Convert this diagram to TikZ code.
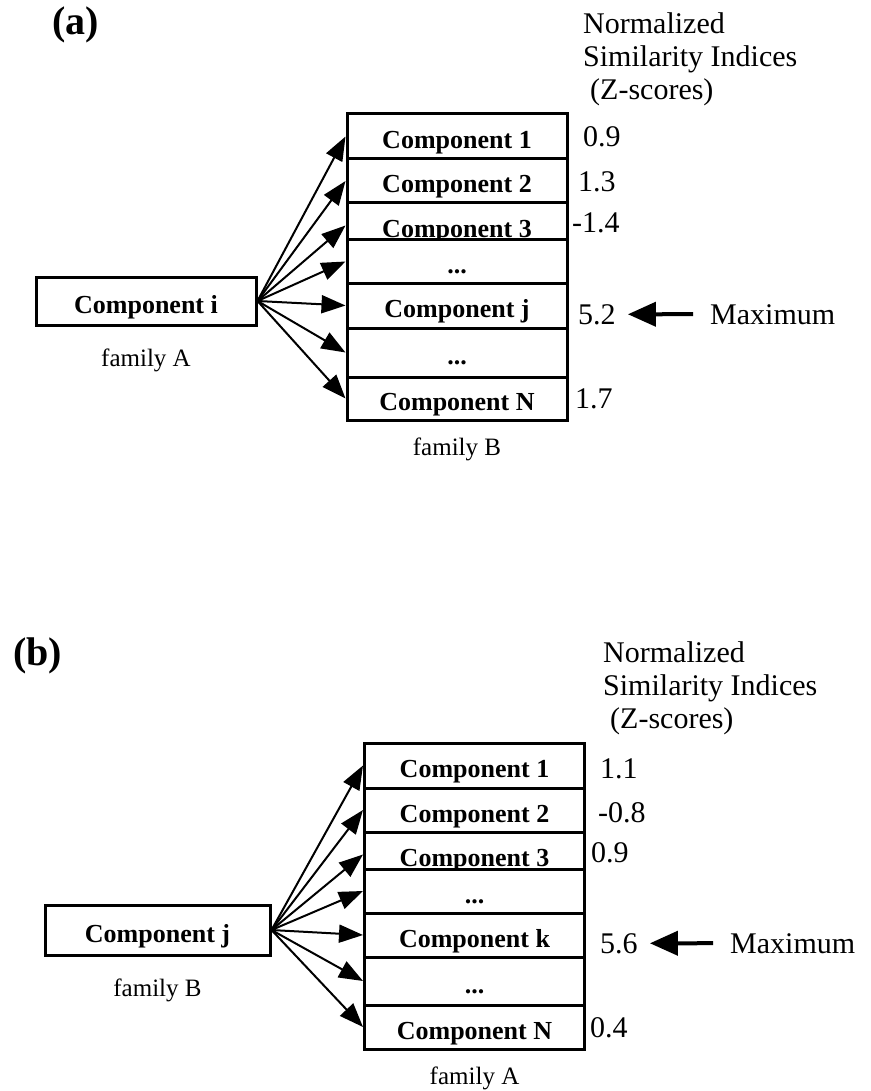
\documentclass[tikz,border=0pt]{standalone}
\usepackage{fontspec}
\setmainfont{Liberation Serif}
\usetikzlibrary{arrows.meta}

\begin{document}
\begin{tikzpicture}[
  x=1pt, y=-1pt,
  comp/.style={draw, line width=3pt, fill=white, font=\fontsize{26}{28}\selectfont\bfseries,
    inner sep=2pt, text height=24pt, text depth=0pt},
  rowbox/.style={comp, minimum width=220pt},
  score/.style={font=\fontsize{30}{33}\selectfont, inner sep=0pt, anchor=base west},
  famlabel/.style={font=\fontsize{25}{28}\selectfont, inner sep=0pt, anchor=base},
  header/.style={font=\fontsize{30}{33}\selectfont, align=left, inner sep=0pt, anchor=north west},
  panel/.style={font=\fontsize{40}{44}\selectfont\bfseries, inner sep=0pt, anchor=base west},
  link/.style={line width=2pt, -{Triangle[length=24pt,width=18pt]}},
  maxarrow/.style={line width=4pt, -{Triangle[length=28pt,width=24pt]},
    shorten <=17pt, shorten >=12pt}
]
\useasboundingbox (0,0) rectangle (870,1091);

% (a)
\node[panel] (la) at (52,35) {(a)};
\node[header] (hda) at (583,12.7) {Normalized\\Similarity Indices\\\hspace{7pt}(Z-scores)};

\node[comp, minimum width=220pt, minimum height=48pt] (ci) at (146,301) {Component i};
\node[famlabel] (fama) at (146,366) {family A};

\node[rowbox, minimum height=45pt] (a1) at (457,136.5) {Component 1};
\node[rowbox, minimum height=44pt] (a2) at (457,181) {Component 2};
\node[rowbox, minimum height=45pt] (a3) at (457,225.5) {Component 3};
\node[rowbox, minimum height=43pt] (a4) at (457,261.5) {...};
\node[rowbox, minimum height=45pt] (a5) at (457,305.5) {Component j};
\node[rowbox, minimum height=49pt] (a6) at (457,352.5) {...};
\node[rowbox, minimum height=43pt] (a7) at (457,398.5) {Component N};
\node[famlabel] (famb) at (457,455) {family B};

\node[score] (za1) at (583,147) {0.9};
\node[score] (za2) at (578,192) {1.3};
\node[score] (za3) at (572,233) {-1.4};
\node[score] (za5) at (578,324) {5.2};
\node[score] (za7) at (575,408) {1.7};
\node[score] (maxa) at (710,324) {Maximum};

\draw[link] (ci.east) -- (a1.west);
\draw[link] (ci.east) -- (a2.west);
\draw[link] (ci.east) -- (a3.west);
\draw[link] (ci.east) -- (a4.west);
\draw[link] (ci.east) -- (a5.west);
\draw[link] (ci.east) -- (a6.west);
\draw[link] (ci.east) -- (a7.west);
\draw[maxarrow] (maxa.west) -- (za5.east);

% (b)
\node[panel] (lb) at (13,665) {(b)};
\node[header] (hdb) at (603,641.7) {Normalized\\Similarity Indices\\\hspace{7pt}(Z-scores)};

\node[comp, minimum width=225pt, minimum height=50pt] (cj) at (157.5,930) {Component j};
\node[famlabel] (famb2) at (157.5,996) {family B};

\node[rowbox, minimum height=45pt] (b1) at (474.5,765.5) {Component 1};
\node[rowbox, minimum height=44pt] (b2) at (474.5,810) {Component 2};
\node[rowbox, minimum height=45pt] (b3) at (474.5,854.5) {Component 3};
\node[rowbox, minimum height=44pt] (b4) at (474.5,891) {...};
\node[rowbox, minimum height=44pt] (b5) at (474.5,935) {Component k};
\node[rowbox, minimum height=48pt] (b6) at (474.5,981) {...};
\node[rowbox, minimum height=44pt] (b7) at (474.5,1027) {Component N};
\node[famlabel] (fama2) at (474.5,1084) {family A};

\node[score] (zb1) at (600,778) {1.1};
\node[score] (zb2) at (598,822) {-0.8};
\node[score] (zb3) at (591,862) {0.9};
\node[score] (zb5) at (600,953) {5.6};
\node[score] (zb7) at (590,1037) {0.4};
\node[score] (maxb) at (730,953) {Maximum};

\draw[link] (cj.east) -- (b1.west);
\draw[link] (cj.east) -- (b2.west);
\draw[link] (cj.east) -- (b3.west);
\draw[link] (cj.east) -- (b4.west);
\draw[link] (cj.east) -- (b5.west);
\draw[link] (cj.east) -- (b6.west);
\draw[link] (cj.east) -- (b7.west);
\draw[maxarrow] (maxb.west) -- (zb5.east);

\end{tikzpicture}
\end{document}
